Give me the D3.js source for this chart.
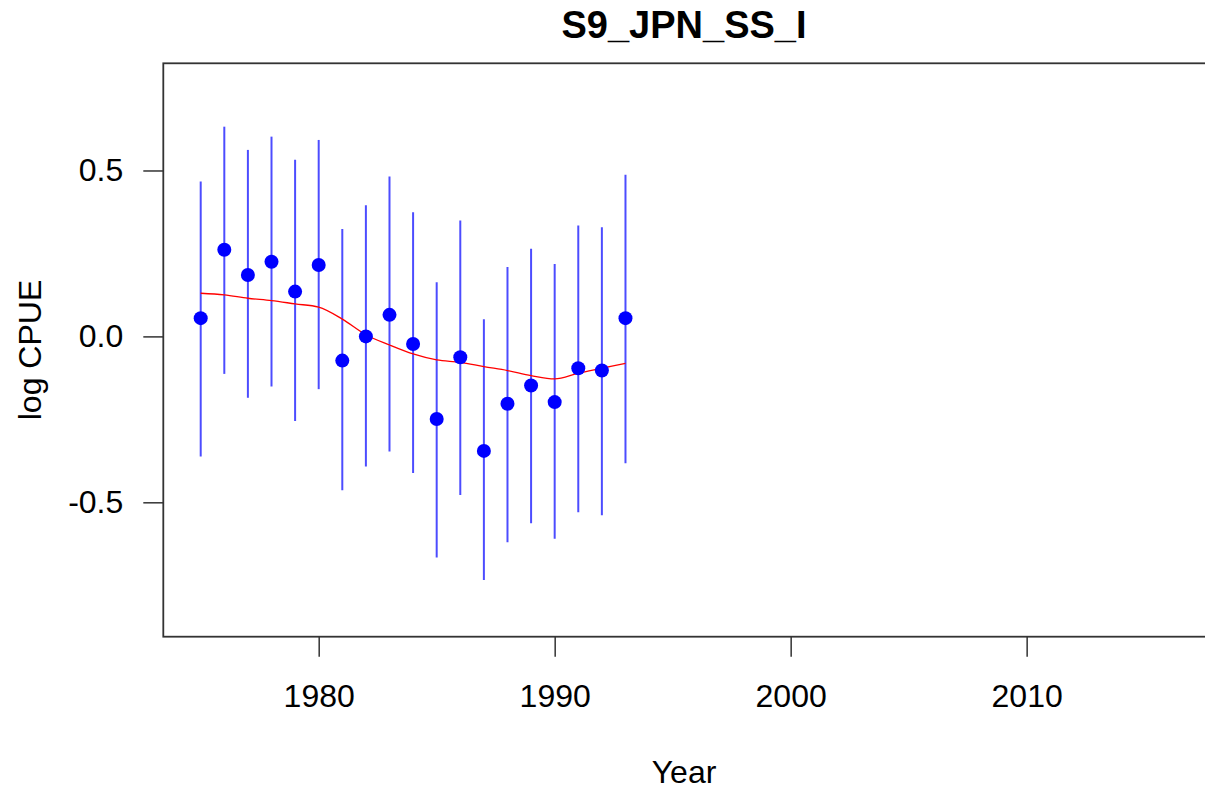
<!DOCTYPE html>
<html>
<head>
<meta charset="utf-8">
<script src="https://cdn.jsdelivr.net/npm/d3@7"></script>
<style>
  body { margin: 0; background: #fff; }
  text { font-family: "Liberation Sans", Arial, sans-serif; fill: #000; }
</style>
</head>
<body>
<svg width="1205" height="790"></svg>
<script>
// observed log CPUE with interval, plus fitted line
var years = [1975,1976,1977,1978,1979,1980,1981,1982,1983,1984,1985,1986,1987,1988,1989,1990,1991,1992,1993];
var obs   = [0.055,0.261,0.185,0.225,0.135,0.215,-0.073,0.000,0.065,-0.023,-0.249,-0.063,-0.345,-0.203,-0.148,-0.198,-0.096,-0.103,0.055];
var upper = [0.467,0.632,0.562,0.602,0.532,0.592,0.324,0.395,0.482,0.374,0.163,0.349,0.052,0.209,0.264,0.218,0.334,0.329,0.487];
var lower = [-0.362,-0.113,-0.185,-0.151,-0.255,-0.159,-0.464,-0.392,-0.347,-0.412,-0.666,-0.478,-0.734,-0.620,-0.563,-0.610,-0.530,-0.539,-0.382];
var fit   = [0.130,0.125,0.115,0.108,0.098,0.088,0.052,0.005,-0.026,-0.053,-0.071,-0.078,-0.091,-0.103,-0.118,-0.128,-0.111,-0.096,-0.081];
var xTicks = [1980,1990,2000,2010];
var yTicks = [-0.5,0,0.5];

var svg = d3.select("svg");
var pLeft = 163.3, pRight = 1206, pTop = 63.3, pBottom = 636.7;

var x = d3.scaleLinear().domain([1973.415, 2017.6]).range([pLeft, pRight]);
var y = d3.scaleLinear().domain([-0.905, 0.823]).range([pBottom, pTop]);

var data = years.map((yr, i) => ({year: yr, v: obs[i], hi: upper[i], lo: lower[i], f: fit[i]}));

// error bars
svg.append("g")
  .selectAll("line")
  .data(data)
  .join("line")
  .attr("x1", d => x(d.year))
  .attr("x2", d => x(d.year))
  .attr("y1", d => y(d.hi))
  .attr("y2", d => y(d.lo))
  .attr("stroke", "blue")
  .attr("stroke-opacity", 0.7)
  .attr("stroke-width", 2);

// fitted line
svg.append("path")
  .datum(data)
  .attr("fill", "none")
  .attr("stroke", "red")
  .attr("stroke-width", 1.3)
  .attr("d", d3.line().curve(d3.curveMonotoneX).x(d => x(d.year)).y(d => y(d.f)));

// points
svg.append("g")
  .selectAll("circle")
  .data(data)
  .join("circle")
  .attr("cx", d => x(d.year))
  .attr("cy", d => y(d.v))
  .attr("r", 7)
  .attr("fill", "blue");

// box
svg.append("rect")
  .attr("x", pLeft).attr("y", pTop)
  .attr("width", pRight - pLeft).attr("height", pBottom - pTop)
  .attr("fill", "none")
  .attr("stroke", "#333")
  .attr("stroke-width", 1.8);

// x axis
var xa = svg.append("g")
  .attr("transform", "translate(0," + pBottom + ")")
  .call(d3.axisBottom(x).tickValues(xTicks).tickFormat(d3.format("d")).tickSize(20).tickPadding(28));
xa.select(".domain").remove();
xa.selectAll("line").attr("stroke", "#333").attr("stroke-width", 1.5);
xa.selectAll("text").attr("font-size", 32).attr("font-family", "Liberation Sans, Arial, sans-serif").attr("fill", "#000");

// y axis
var ya = svg.append("g")
  .attr("transform", "translate(" + pLeft + ",0)")
  .call(d3.axisLeft(y).tickValues(yTicks).tickFormat(d => d3.format(".1f")(d).replace("\u2212", "-")).tickSize(20).tickPadding(20));
ya.select(".domain").remove();
ya.selectAll("line").attr("stroke", "#333").attr("stroke-width", 1.5);
ya.selectAll("text").attr("font-size", 32).attr("font-family", "Liberation Sans, Arial, sans-serif").attr("fill", "#000");

// title & labels
svg.append("text")
  .attr("x", 684).attr("y", 38)
  .attr("text-anchor", "middle")
  .attr("font-size", 38).attr("font-weight", "bold")
  .text("S9_JPN_SS_I");

svg.append("text")
  .attr("x", 684).attr("y", 783)
  .attr("text-anchor", "middle")
  .attr("font-size", 32)
  .text("Year");

svg.append("text")
  .attr("transform", "translate(41,350) rotate(-90)")
  .attr("text-anchor", "middle")
  .attr("font-size", 32)
  .text("log CPUE");
</script>
</body>
</html>
